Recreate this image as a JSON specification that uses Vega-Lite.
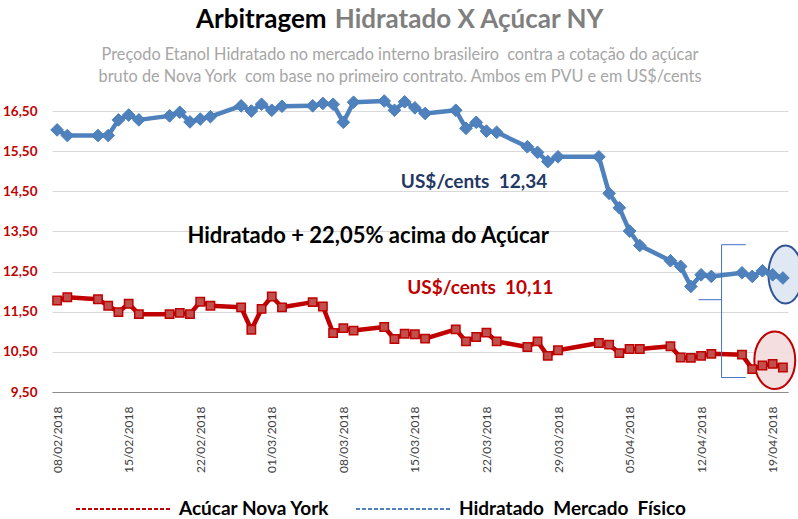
{
  "$schema": "https://vega.github.io/schema/vega-lite/v6.json",
  "width": 736,
  "height": 297,
  "autosize": {"type": "none"},
  "padding": {"left": 52, "top": 95, "right": 10, "bottom": 127},
  "background": "white",
  "title": {
    "text": ["Preçodo Etanol Hidratado no mercado interno brasileiro\u00a0 contra a cotação do açúcar", "bruto de Nova York\u00a0 com base no primeiro contrato. Ambos em PVU e em US$/cents"],
    "anchor": "middle",
    "dx": -20,
    "dy": 88,
    "offset": 10,
    "font": "Lato",
    "fontSize": 16.3,
    "fontWeight": "normal",
    "color": "#a6a6a6",
    "lineHeight": 22
  },
  "config": {
    "view": {"stroke": null},
    "font": "Lato",
    "locale": {"number": {"decimal": ",", "thousands": ".", "grouping": [3], "currency": ["R$", ""]}}
  },
  "data": {
    "values": [
      {"date": "2018-02-08", "serie": "Hidratado\u00a0 Mercado\u00a0 Físico", "valor": 16.03},
      {"date": "2018-02-09", "serie": "Hidratado\u00a0 Mercado\u00a0 Físico", "valor": 15.89},
      {"date": "2018-02-12", "serie": "Hidratado\u00a0 Mercado\u00a0 Físico", "valor": 15.89},
      {"date": "2018-02-13", "serie": "Hidratado\u00a0 Mercado\u00a0 Físico", "valor": 15.89},
      {"date": "2018-02-14", "serie": "Hidratado\u00a0 Mercado\u00a0 Físico", "valor": 16.28},
      {"date": "2018-02-15", "serie": "Hidratado\u00a0 Mercado\u00a0 Físico", "valor": 16.40},
      {"date": "2018-02-16", "serie": "Hidratado\u00a0 Mercado\u00a0 Físico", "valor": 16.28},
      {"date": "2018-02-19", "serie": "Hidratado\u00a0 Mercado\u00a0 Físico", "valor": 16.38},
      {"date": "2018-02-20", "serie": "Hidratado\u00a0 Mercado\u00a0 Físico", "valor": 16.47},
      {"date": "2018-02-21", "serie": "Hidratado\u00a0 Mercado\u00a0 Físico", "valor": 16.23},
      {"date": "2018-02-22", "serie": "Hidratado\u00a0 Mercado\u00a0 Físico", "valor": 16.30},
      {"date": "2018-02-23", "serie": "Hidratado\u00a0 Mercado\u00a0 Físico", "valor": 16.36},
      {"date": "2018-02-26", "serie": "Hidratado\u00a0 Mercado\u00a0 Físico", "valor": 16.63},
      {"date": "2018-02-27", "serie": "Hidratado\u00a0 Mercado\u00a0 Físico", "valor": 16.50},
      {"date": "2018-02-28", "serie": "Hidratado\u00a0 Mercado\u00a0 Físico", "valor": 16.67},
      {"date": "2018-03-01", "serie": "Hidratado\u00a0 Mercado\u00a0 Físico", "valor": 16.52},
      {"date": "2018-03-02", "serie": "Hidratado\u00a0 Mercado\u00a0 Físico", "valor": 16.62},
      {"date": "2018-03-05", "serie": "Hidratado\u00a0 Mercado\u00a0 Físico", "valor": 16.63},
      {"date": "2018-03-06", "serie": "Hidratado\u00a0 Mercado\u00a0 Físico", "valor": 16.69},
      {"date": "2018-03-07", "serie": "Hidratado\u00a0 Mercado\u00a0 Físico", "valor": 16.67},
      {"date": "2018-03-08", "serie": "Hidratado\u00a0 Mercado\u00a0 Físico", "valor": 16.22},
      {"date": "2018-03-09", "serie": "Hidratado\u00a0 Mercado\u00a0 Físico", "valor": 16.72},
      {"date": "2018-03-12", "serie": "Hidratado\u00a0 Mercado\u00a0 Físico", "valor": 16.75},
      {"date": "2018-03-13", "serie": "Hidratado\u00a0 Mercado\u00a0 Físico", "valor": 16.52},
      {"date": "2018-03-14", "serie": "Hidratado\u00a0 Mercado\u00a0 Físico", "valor": 16.73},
      {"date": "2018-03-15", "serie": "Hidratado\u00a0 Mercado\u00a0 Físico", "valor": 16.58},
      {"date": "2018-03-16", "serie": "Hidratado\u00a0 Mercado\u00a0 Físico", "valor": 16.44},
      {"date": "2018-03-19", "serie": "Hidratado\u00a0 Mercado\u00a0 Físico", "valor": 16.52},
      {"date": "2018-03-20", "serie": "Hidratado\u00a0 Mercado\u00a0 Físico", "valor": 16.07},
      {"date": "2018-03-21", "serie": "Hidratado\u00a0 Mercado\u00a0 Físico", "valor": 16.22},
      {"date": "2018-03-22", "serie": "Hidratado\u00a0 Mercado\u00a0 Físico", "valor": 16.00},
      {"date": "2018-03-23", "serie": "Hidratado\u00a0 Mercado\u00a0 Físico", "valor": 15.97},
      {"date": "2018-03-26", "serie": "Hidratado\u00a0 Mercado\u00a0 Físico", "valor": 15.61},
      {"date": "2018-03-27", "serie": "Hidratado\u00a0 Mercado\u00a0 Físico", "valor": 15.47},
      {"date": "2018-03-28", "serie": "Hidratado\u00a0 Mercado\u00a0 Físico", "valor": 15.24},
      {"date": "2018-03-29", "serie": "Hidratado\u00a0 Mercado\u00a0 Físico", "valor": 15.36},
      {"date": "2018-04-02", "serie": "Hidratado\u00a0 Mercado\u00a0 Físico", "valor": 15.36},
      {"date": "2018-04-03", "serie": "Hidratado\u00a0 Mercado\u00a0 Físico", "valor": 14.45},
      {"date": "2018-04-04", "serie": "Hidratado\u00a0 Mercado\u00a0 Físico", "valor": 14.09},
      {"date": "2018-04-05", "serie": "Hidratado\u00a0 Mercado\u00a0 Físico", "valor": 13.51},
      {"date": "2018-04-06", "serie": "Hidratado\u00a0 Mercado\u00a0 Físico", "valor": 13.15},
      {"date": "2018-04-09", "serie": "Hidratado\u00a0 Mercado\u00a0 Físico", "valor": 12.77},
      {"date": "2018-04-10", "serie": "Hidratado\u00a0 Mercado\u00a0 Físico", "valor": 12.63},
      {"date": "2018-04-11", "serie": "Hidratado\u00a0 Mercado\u00a0 Físico", "valor": 12.13},
      {"date": "2018-04-12", "serie": "Hidratado\u00a0 Mercado\u00a0 Físico", "valor": 12.42},
      {"date": "2018-04-13", "serie": "Hidratado\u00a0 Mercado\u00a0 Físico", "valor": 12.38},
      {"date": "2018-04-16", "serie": "Hidratado\u00a0 Mercado\u00a0 Físico", "valor": 12.47},
      {"date": "2018-04-17", "serie": "Hidratado\u00a0 Mercado\u00a0 Físico", "valor": 12.38},
      {"date": "2018-04-18", "serie": "Hidratado\u00a0 Mercado\u00a0 Físico", "valor": 12.52},
      {"date": "2018-04-19", "serie": "Hidratado\u00a0 Mercado\u00a0 Físico", "valor": 12.42},
      {"date": "2018-04-20", "serie": "Hidratado\u00a0 Mercado\u00a0 Físico", "valor": 12.34},
      {"date": "2018-02-08", "serie": "Acúcar Nova York", "valor": 11.78},
      {"date": "2018-02-09", "serie": "Acúcar Nova York", "valor": 11.86},
      {"date": "2018-02-12", "serie": "Acúcar Nova York", "valor": 11.81},
      {"date": "2018-02-13", "serie": "Acúcar Nova York", "valor": 11.65},
      {"date": "2018-02-14", "serie": "Acúcar Nova York", "valor": 11.49},
      {"date": "2018-02-15", "serie": "Acúcar Nova York", "valor": 11.70},
      {"date": "2018-02-16", "serie": "Acúcar Nova York", "valor": 11.44},
      {"date": "2018-02-19", "serie": "Acúcar Nova York", "valor": 11.44},
      {"date": "2018-02-20", "serie": "Acúcar Nova York", "valor": 11.47},
      {"date": "2018-02-21", "serie": "Acúcar Nova York", "valor": 11.44},
      {"date": "2018-02-22", "serie": "Acúcar Nova York", "valor": 11.75},
      {"date": "2018-02-23", "serie": "Acúcar Nova York", "valor": 11.65},
      {"date": "2018-02-26", "serie": "Acúcar Nova York", "valor": 11.61},
      {"date": "2018-02-27", "serie": "Acúcar Nova York", "valor": 11.05},
      {"date": "2018-02-28", "serie": "Acúcar Nova York", "valor": 11.57},
      {"date": "2018-03-01", "serie": "Acúcar Nova York", "valor": 11.88},
      {"date": "2018-03-02", "serie": "Acúcar Nova York", "valor": 11.61},
      {"date": "2018-03-05", "serie": "Acúcar Nova York", "valor": 11.74},
      {"date": "2018-03-06", "serie": "Acúcar Nova York", "valor": 11.63},
      {"date": "2018-03-07", "serie": "Acúcar Nova York", "valor": 10.97},
      {"date": "2018-03-08", "serie": "Acúcar Nova York", "valor": 11.09},
      {"date": "2018-03-09", "serie": "Acúcar Nova York", "valor": 11.03},
      {"date": "2018-03-12", "serie": "Acúcar Nova York", "valor": 11.12},
      {"date": "2018-03-13", "serie": "Acúcar Nova York", "valor": 10.82},
      {"date": "2018-03-14", "serie": "Acúcar Nova York", "valor": 10.95},
      {"date": "2018-03-15", "serie": "Acúcar Nova York", "valor": 10.94},
      {"date": "2018-03-16", "serie": "Acúcar Nova York", "valor": 10.83},
      {"date": "2018-03-19", "serie": "Acúcar Nova York", "valor": 11.06},
      {"date": "2018-03-20", "serie": "Acúcar Nova York", "valor": 10.76},
      {"date": "2018-03-21", "serie": "Acúcar Nova York", "valor": 10.87},
      {"date": "2018-03-22", "serie": "Acúcar Nova York", "valor": 10.98},
      {"date": "2018-03-23", "serie": "Acúcar Nova York", "valor": 10.76},
      {"date": "2018-03-26", "serie": "Acúcar Nova York", "valor": 10.62},
      {"date": "2018-03-27", "serie": "Acúcar Nova York", "valor": 10.76},
      {"date": "2018-03-28", "serie": "Acúcar Nova York", "valor": 10.40},
      {"date": "2018-03-29", "serie": "Acúcar Nova York", "valor": 10.54},
      {"date": "2018-04-02", "serie": "Acúcar Nova York", "valor": 10.72},
      {"date": "2018-04-03", "serie": "Acúcar Nova York", "valor": 10.68},
      {"date": "2018-04-04", "serie": "Acúcar Nova York", "valor": 10.47},
      {"date": "2018-04-05", "serie": "Acúcar Nova York", "valor": 10.57},
      {"date": "2018-04-06", "serie": "Acúcar Nova York", "valor": 10.57},
      {"date": "2018-04-09", "serie": "Acúcar Nova York", "valor": 10.64},
      {"date": "2018-04-10", "serie": "Acúcar Nova York", "valor": 10.36},
      {"date": "2018-04-11", "serie": "Acúcar Nova York", "valor": 10.35},
      {"date": "2018-04-12", "serie": "Acúcar Nova York", "valor": 10.40},
      {"date": "2018-04-13", "serie": "Acúcar Nova York", "valor": 10.45},
      {"date": "2018-04-16", "serie": "Acúcar Nova York", "valor": 10.43},
      {"date": "2018-04-17", "serie": "Acúcar Nova York", "valor": 10.07},
      {"date": "2018-04-18", "serie": "Acúcar Nova York", "valor": 10.16},
      {"date": "2018-04-19", "serie": "Acúcar Nova York", "valor": 10.20},
      {"date": "2018-04-20", "serie": "Acúcar Nova York", "valor": 10.11}
    ]
  },
  "layer": [
    {
      "data": {"values": [{}]},
      "mark": {"type": "point", "shape": "M0.586,0 C0.586,0.5523 0.3237,1 0,1 C-0.3237,1 -0.586,0.5523 -0.586,0 C-0.586,-0.5523 -0.3237,-1 0,-1 C0.3237,-1 0.586,-0.5523 0.586,0 Z", "size": 3364, "filled": true, "fill": "#dce6f2", "fillOpacity": 0.9, "stroke": "#2f5597", "strokeWidth": 2, "opacity": 1},
      "encoding": {
        "x": {"datum": {"year": 2018, "month": 4, "date": 20, "hours": 6, "utc": true}, "type": "temporal"},
        "y": {"datum": 12.43, "type": "quantitative"}
      }
    },
    {
      "data": {"values": [{}]},
      "mark": {"type": "point", "shape": "M0.71,0 C0.71,0.5523 0.3921,1 0,1 C-0.3921,1 -0.71,0.5523 -0.71,0 C-0.71,-0.5523 -0.3921,-1 0,-1 C0.3921,-1 0.71,-0.5523 0.71,0 Z", "size": 3318, "filled": true, "fill": "#f2dcdb", "fillOpacity": 0.9, "stroke": "#c00000", "strokeWidth": 2, "opacity": 1},
      "encoding": {
        "x": {"datum": {"year": 2018, "month": 4, "date": 19, "hours": 5, "utc": true}, "type": "temporal"},
        "y": {"datum": 10.29, "type": "quantitative"}
      }
    },
    {
      "mark": {"type": "line", "strokeWidth": 4.5, "strokeJoin": "round"},
      "encoding": {
        "x": {
          "field": "date", "type": "temporal",
          "scale": {"type": "utc", "domain": [{"year": 2018, "month": 2, "date": 7, "hours": 12, "utc": true}, {"year": 2018, "month": 4, "date": 20, "hours": 12, "utc": true}]},
          "axis": {
            "title": null,
            "values": [
              {"year": 2018, "month": 2, "date": 8, "utc": true},
              {"year": 2018, "month": 2, "date": 15, "utc": true},
              {"year": 2018, "month": 2, "date": 22, "utc": true},
              {"year": 2018, "month": 3, "date": 1, "utc": true},
              {"year": 2018, "month": 3, "date": 8, "utc": true},
              {"year": 2018, "month": 3, "date": 15, "utc": true},
              {"year": 2018, "month": 3, "date": 22, "utc": true},
              {"year": 2018, "month": 3, "date": 29, "utc": true},
              {"year": 2018, "month": 4, "date": 5, "utc": true},
              {"year": 2018, "month": 4, "date": 12, "utc": true},
              {"year": 2018, "month": 4, "date": 19, "utc": true}
            ],
            "labelExpr": "utcFormat(datum.value, '%d/%m/%Y')",
            "labelAngle": 270,
            "labelFont": "Lato",
            "labelFontSize": 12,
            "labelColor": "#404040",
            "labelPadding": 14,
            "ticks": false,
            "grid": false,
            "domainColor": "#8c8c8c",
            "domainWidth": 1,
            "labelOverlap": false
          }
        },
        "y": {
          "field": "valor", "type": "quantitative",
          "scale": {"domain": [9.5, 16.9], "nice": false, "zero": false},
          "axis": {
            "title": null,
            "values": [9.5, 10.5, 11.5, 12.5, 13.5, 14.5, 15.5, 16.5],
            "format": ".2f",
            "labelFont": "Lato",
            "labelFontSize": 13.5,
            "labelFontWeight": "bold",
            "labelColor": "#c00000",
            "labelPadding": 15,
            "ticks": false,
            "domain": false,
            "grid": true,
            "gridColor": "#d9d9d9",
            "gridWidth": 1
          }
        },
        "color": {
          "field": "serie", "type": "nominal",
          "scale": {"domain": ["Acúcar Nova York", "Hidratado\u00a0 Mercado\u00a0 Físico"], "range": ["#c00000", "#4f81bd"]},
          "legend": {
            "orient": "none",
            "legendX": 23,
            "legendY": 366,
            "direction": "horizontal",
            "title": null,
            "symbolType": "stroke",
            "symbolSize": 8836,
            "symbolStrokeWidth": 2,
            "symbolDash": [4, 2],
            "labelFont": "Lato",
            "labelFontSize": 19,
            "labelFontWeight": "bold",
            "labelColor": "black",
            "labelOffset": 8,
            "columnPadding": 22,
            "labelLimit": 400
          }
        }
      }
    },
    {
      "transform": [{"filter": "datum.serie !== 'Acúcar Nova York'"}],
      "mark": {"type": "point", "shape": "diamond", "size": 160, "filled": true, "fill": "#4f81bd", "stroke": "#4a7ebb", "strokeWidth": 1, "opacity": 1},
      "encoding": {
        "x": {"field": "date", "type": "temporal"},
        "y": {"field": "valor", "type": "quantitative"}
      }
    },
    {
      "transform": [{"filter": "datum.serie === 'Acúcar Nova York'"}],
      "mark": {"type": "point", "shape": "square", "size": 70, "filled": true, "fill": "#c0504d", "stroke": "#c00000", "strokeWidth": 1.5, "opacity": 1},
      "encoding": {
        "x": {"field": "date", "type": "temporal"},
        "y": {"field": "valor", "type": "quantitative"}
      }
    },
    {
      "data": {"values": [{}]},
      "mark": {"type": "rule", "color": "#4472c4", "strokeWidth": 1},
      "encoding": {
        "x": {"datum": {"year": 2018, "month": 4, "date": 14, "utc": true}, "type": "temporal"},
        "y": {"datum": 13.17, "type": "quantitative"},
        "y2": {"datum": 9.86}
      }
    },
    {
      "data": {"values": [{}]},
      "mark": {"type": "rule", "color": "#4472c4", "strokeWidth": 1},
      "encoding": {
        "x": {"datum": {"year": 2018, "month": 4, "date": 14, "utc": true}, "type": "temporal"},
        "x2": {"datum": {"year": 2018, "month": 4, "date": 16, "hours": 9, "utc": true}},
        "y": {"datum": 13.17, "type": "quantitative"}
      }
    },
    {
      "data": {"values": [{}]},
      "mark": {"type": "rule", "color": "#4472c4", "strokeWidth": 1},
      "encoding": {
        "x": {"datum": {"year": 2018, "month": 4, "date": 14, "utc": true}, "type": "temporal"},
        "x2": {"datum": {"year": 2018, "month": 4, "date": 16, "hours": 9, "utc": true}},
        "y": {"datum": 9.86, "type": "quantitative"}
      }
    },
    {
      "data": {"values": [{}]},
      "mark": {"type": "rule", "color": "#4472c4", "strokeWidth": 1},
      "encoding": {
        "x": {"datum": {"year": 2018, "month": 4, "date": 11, "hours": 18, "utc": true}, "type": "temporal"},
        "x2": {"datum": {"year": 2018, "month": 4, "date": 14, "utc": true}},
        "y": {"datum": 11.80, "type": "quantitative"}
      }
    },
    {
      "data": {"values": [{}]},
      "mark": {"type": "text", "align": "left", "baseline": "middle", "font": "Lato", "fontSize": 26, "fontWeight": "bold", "color": "black", "text": "Arbitragem"},
      "encoding": {
        "x": {"datum": {"year": 2018, "month": 2, "date": 21, "hours": 14, "utc": true}, "type": "temporal"},
        "y": {"datum": 18.77, "type": "quantitative"}
      }
    },
    {
      "data": {"values": [{}]},
      "mark": {"type": "text", "align": "left", "baseline": "middle", "font": "Lato", "fontSize": 26, "fontWeight": "bold", "color": "#7f7f7f", "text": "Hidratado X Açúcar NY"},
      "encoding": {
        "x": {"datum": {"year": 2018, "month": 3, "date": 7, "hours": 4, "utc": true}, "type": "temporal"},
        "y": {"datum": 18.77, "type": "quantitative"}
      }
    },
    {
      "data": {"values": [{}]},
      "mark": {"type": "text", "align": "left", "baseline": "middle", "font": "Lato", "fontSize": 19, "fontWeight": "bold", "color": "#1f3864", "text": "US$/cents\u00a0 12,34"},
      "encoding": {
        "x": {"datum": {"year": 2018, "month": 3, "date": 13, "hours": 15, "utc": true}, "type": "temporal"},
        "y": {"datum": 14.73, "type": "quantitative"}
      }
    },
    {
      "data": {"values": [{}]},
      "mark": {"type": "text", "align": "left", "baseline": "middle", "font": "Lato", "fontSize": 22, "fontWeight": "bold", "color": "black", "text": "Hidratado + 22,05% acima do Açúcar"},
      "encoding": {
        "x": {"datum": {"year": 2018, "month": 2, "date": 20, "hours": 18, "utc": true}, "type": "temporal"},
        "y": {"datum": 13.39, "type": "quantitative"}
      }
    },
    {
      "data": {"values": [{}]},
      "mark": {"type": "text", "align": "left", "baseline": "middle", "font": "Lato", "fontSize": 19, "fontWeight": "bold", "color": "#c00000", "text": "US$/cents\u00a0 10,11"},
      "encoding": {
        "x": {"datum": {"year": 2018, "month": 3, "date": 14, "hours": 6, "utc": true}, "type": "temporal"},
        "y": {"datum": 12.10, "type": "quantitative"}
      }
    }
  ]
}
